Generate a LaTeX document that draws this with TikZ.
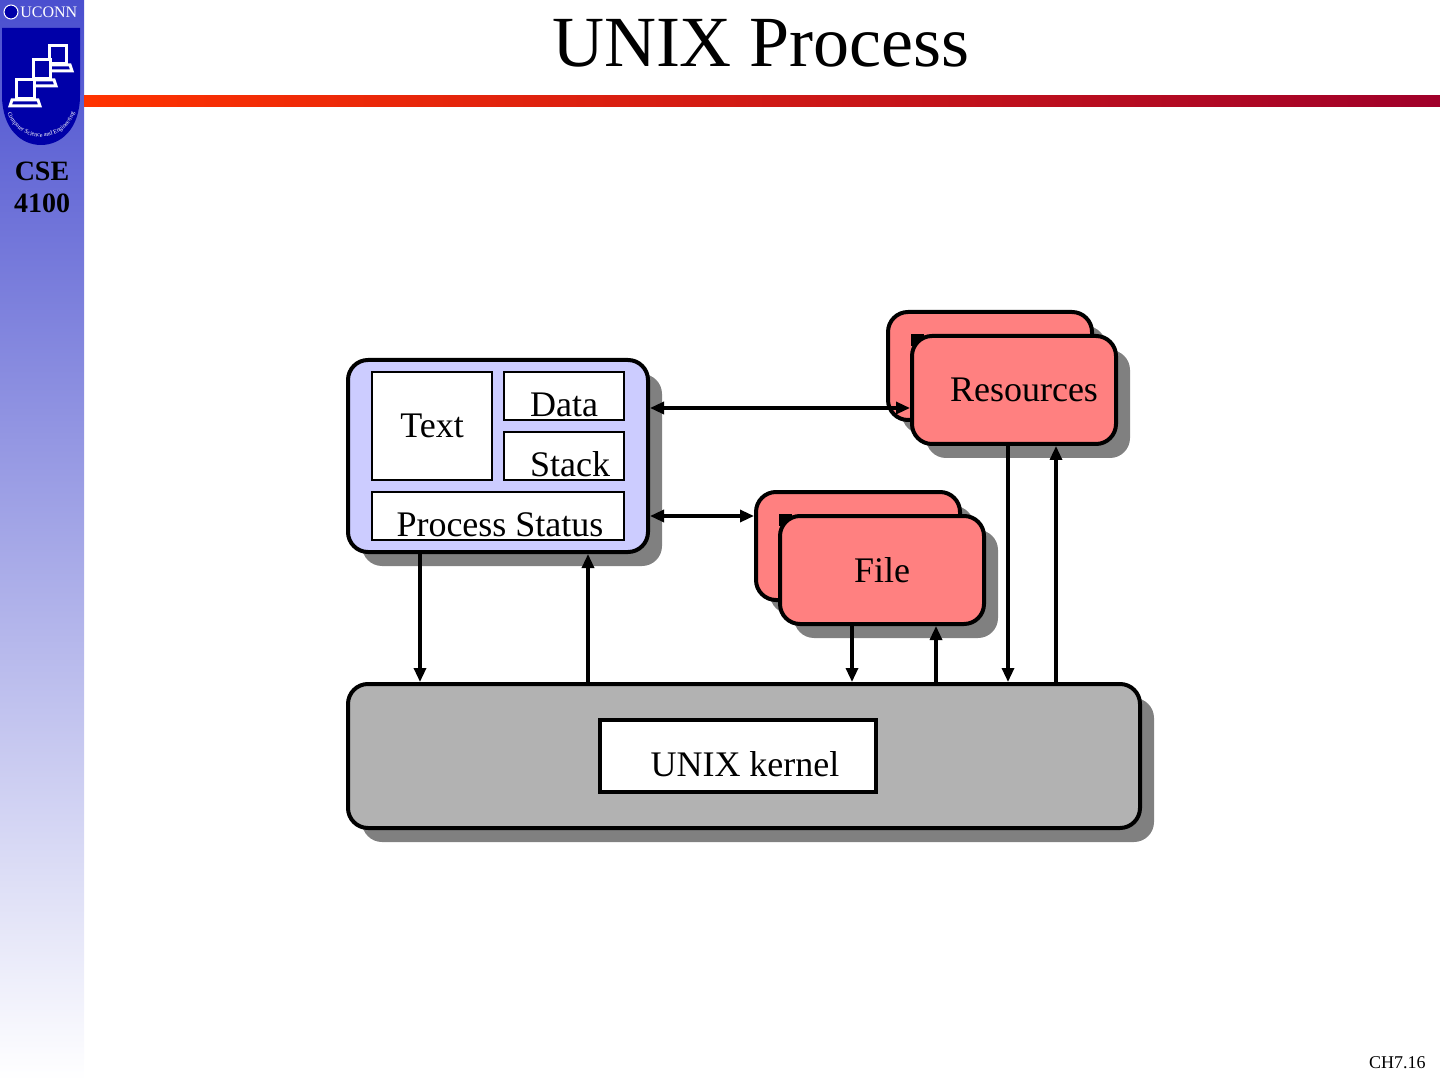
\documentclass[tikz,border=0pt]{standalone}
\usepackage{fontspec}
\setmainfont{Liberation Serif}
\usetikzlibrary{arrows.meta,shadows,decorations.text}

\definecolor{procblue}{HTML}{CCCCFF}
\definecolor{respink}{HTML}{FF8080}
\definecolor{kernelgray}{HTML}{B2B2B2}
\definecolor{shadowgray}{HTML}{808080}
\definecolor{barred}{HTML}{FF3300}
\definecolor{barwine}{HTML}{A0002A}
\definecolor{sideblue}{HTML}{4A4FCF}
\definecolor{shieldblue}{HTML}{0000A8}

\begin{document}
\begin{tikzpicture}[x=0.5pt,y=-0.5pt,
  bigbox/.style={draw,line width=2pt,rounded corners=10pt,inner sep=0pt,
    drop shadow={shadow xshift=7pt,shadow yshift=-7pt,fill=shadowgray,opacity=1}},
  part/.style={draw,fill=white,line width=1pt,inner sep=0pt,font=\fontsize{18}{20}\selectfont},
  lowtext/.style={text height=20pt,text depth=0pt},
  link/.style={line width=1.6pt,-{Triangle[length=7pt,width=6pt]}},
  twoway/.style={line width=1.6pt,{Triangle[length=7pt,width=6pt]}-{Triangle[length=7pt,width=6pt]}},
  screen/.style={draw=white,fill=shieldblue,line width=1.5pt}]

\useasboundingbox (0,0) rectangle (1440,1080);

% side bar and title bar
\shade[top color=sideblue,bottom color=white] (0,0) rectangle (84,1080);
\shade[left color=barred,right color=barwine] (84,96) rectangle (1440,107);

\fill[shieldblue] (2,28) -- (80,28) -- (80,95) .. controls (80,130) and (60,145) .. (41,145)
  .. controls (22,145) and (2,130) .. (2,95) -- cycle;
\draw[screen] (49,46) rectangle (66,64);
\draw[screen] (46,65) -- (70,65) -- (72,71) -- (44,71) -- cycle;
\draw[screen] (33,60) rectangle (50,79);
\draw[screen] (30,80) -- (54,80) -- (56,86) -- (28,86) -- cycle;
\draw[screen] (16,80) rectangle (34,99);
\draw[screen] (12,100) -- (38,100) -- (40,106) -- (10,106) -- cycle;
\path[decorate,decoration={text along path,text align=center,
  text={|\fontsize{3.1}{4}\selectfont\color{white}|Computer Science and Engineering}}]
  (4,98) .. controls (8,150) and (74,150) .. (78,98);
\draw[white,fill=shieldblue,line width=0.5pt] (11,12) circle (7);
\node[anchor=base west,text=white,inner sep=0pt,font=\fontsize{8}{9}\selectfont] (uconn) at (20,18) {UCONN};

\node[font=\bfseries\fontsize{14}{16}\selectfont,align=center,inner sep=0pt] (course) at (42,187) {CSE\\4100};
\node[anchor=base,inner sep=0pt,font=\fontsize{36}{40}\selectfont] (title) at (761,67) {UNIX Process};
\node[anchor=base east,inner sep=0pt,font=\fontsize{9}{10}\selectfont] (page) at (1426,1068) {CH7.16};

% process
\node[bigbox,fill=procblue,minimum width=150pt,minimum height=96pt] (proc) at (498,456) {};
\node[part,minimum width=60pt,minimum height=54pt] (text) at (432,426) {Text};
\node[part,lowtext,minimum width=60pt,minimum height=24pt] (data) at (564,396) {Data};
\node[part,lowtext,minimum width=60pt,minimum height=24pt] (stack) at (564,456) {\hspace{6pt}Stack};
\node[part,lowtext,minimum width=126pt,minimum height=24pt] (status) at (498,516) {\hspace{2pt}Process Status};

% resources and files
\node[bigbox,fill=respink,minimum width=102pt,minimum height=54pt] (resB) at (990,366) {};
\fill (911,334) rectangle (924,346);
\node[bigbox,fill=respink,minimum width=102pt,minimum height=54pt,
  font=\fontsize{18}{20}\selectfont] (resF) at (1014,390) {\hspace{10pt}Resources};
\node[bigbox,fill=respink,minimum width=102pt,minimum height=54pt] (fileB) at (858,546) {};
\fill (779,514) rectangle (792,526);
\node[bigbox,fill=respink,minimum width=102pt,minimum height=54pt,
  font=\fontsize{18}{20}\selectfont] (fileF) at (882,570) {File};

% kernel
\node[bigbox,fill=kernelgray,minimum width=396pt,minimum height=72pt] (kern) at (744,756) {};
\node[part,lowtext,line width=2pt,minimum width=138pt,minimum height=36pt] (kname) at (738,756) {\hspace{7pt}UNIX kernel};

\coordinate (rowR) at (0,408);
\coordinate (rowF) at (0,516);
\draw[twoway] (proc.east |- rowR) -- (resF.west |- rowR);
\draw[twoway] (proc.east |- rowF) -- (fileB.west |- rowF);

\coordinate (colA) at (420,0);
\coordinate (colB) at (588,0);
\coordinate (colC) at (852,0);
\coordinate (colD) at (936,0);
\coordinate (colE) at (1008,0);
\coordinate (colF) at (1056,0);
\draw[link] (proc.south -| colA) -- (kern.north -| colA);
\draw[link] (kern.north -| colB) -- (proc.south -| colB);
\draw[link] (fileF.south -| colC) -- (kern.north -| colC);
\draw[link] (kern.north -| colD) -- (fileF.south -| colD);
\draw[link] (resF.south -| colE) -- (kern.north -| colE);
\draw[link] (kern.north -| colF) -- (resF.south -| colF);

\end{tikzpicture}
\end{document}
